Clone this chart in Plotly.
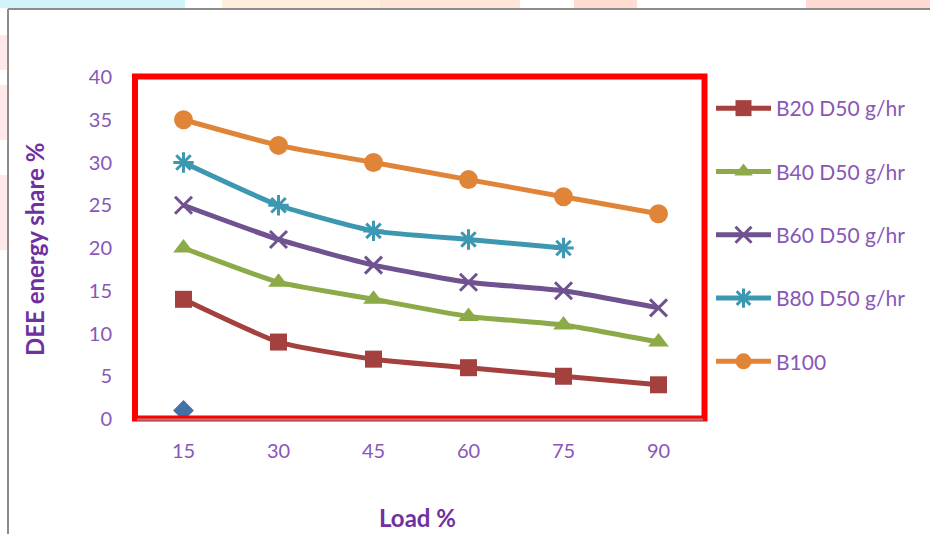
import plotly.graph_objects as go

# Engine load (%) and DEE energy share (%) for each blend
load = [15, 30, 45, 60, 75, 90]
b20 = [14, 9, 7, 6, 5, 4]
b40 = [20, 16, 14, 12, 11, 9]
b60 = [25, 21, 18, 16, 15, 13]
b80 = [30, 25, 22, 21, 20, None]
b100 = [35, 32, 30, 28, 26, 24]
diesel_load = [15]
diesel_share = [1]

W, H = 930, 534
L, R, T, B = 136, 706, 77, 419  # plot area in pixels

def px(x):
    return (x - L) / (R - L)

def py(y):
    return (B - y) / (B - T)

TICK = "#8757B8"
TITLE = "#7030A0"
FONT = "Lato, 'Open Sans', sans-serif"

fig = go.Figure()

series = [
    ("B20 D50 g/hr", b20, "#A4403D", dict(symbol="square", size=17)),
    ("B40 D50 g/hr", b40, "#8DAA48", dict(symbol="triangle-up", size=18)),
    ("B60 D50 g/hr", b60, "#6F528F", dict(symbol="x-thin-open", size=17, line=dict(width=3, color="#6F528F"))),
    ("B80 D50 g/hr", b80, "#3C98B0", dict(symbol="asterisk-open", size=17, line=dict(width=3, color="#3C98B0"))),
    ("B100", b100, "#E08537", dict(symbol="circle", size=19)),
]

for i, (name, vals, col, mk) in enumerate(series):
    fig.add_trace(go.Scatter(
        x=load, y=vals, name=name, mode="lines+markers",
        line=dict(color=col, width=5, shape="spline", smoothing=0.5),
        marker=dict(color=col, **mk),
        legendgroup=name, connectgaps=False,
    ))

fig.add_trace(go.Scatter(
    x=diesel_load, y=diesel_share, mode="markers", showlegend=False,
    marker=dict(symbol="diamond", size=16, color="#4472A8"),
))

shapes = []
# pastel strip along the top edge
for x0, x1, c in [(0, 185, "#D3F3FB"), (222, 380, "#FFEEDC"), (380, 520, "#FFE4D8"),
                  (574, 637, "#FFDBD2"), (806, 930, "#FFDAD2")]:
    shapes.append(dict(type="rect", xref="paper", yref="paper", layer="below",
                       x0=px(x0), x1=px(x1), y0=py(0), y1=py(8),
                       fillcolor=c, line=dict(width=0)))
for y0, y1 in [(35, 70), (85, 140), (175, 250)]:
    shapes.append(dict(type="rect", xref="paper", yref="paper", layer="below",
                       x0=px(0), x1=px(7), y0=py(y1), y1=py(y0),
                       fillcolor="#FFE8E8", line=dict(width=0)))
# frame lines
shapes.append(dict(type="line", xref="paper", yref="paper", x0=px(8), x1=px(930),
                   y0=py(9), y1=py(9), line=dict(color="#8C8C8C", width=2)))
shapes.append(dict(type="line", xref="paper", yref="paper", x0=px(8), x1=px(8),
                   y0=py(9), y1=py(534), line=dict(color="#8C8C8C", width=2)))
# red highlight box around the plot area
shapes.append(dict(type="rect", xref="paper", yref="paper", layer="above",
                   x0=px(135), x1=px(704.5), y0=py(418.5), y1=py(76.5),
                   line=dict(color="#FF0000", width=6)))
shapes.append(dict(type="line", xref="paper", yref="paper", layer="above",
                   x0=px(137), x1=px(703), y0=py(419.5), y1=py(419.5),
                   line=dict(color="#8C8C8C", width=2)))

fig.update_layout(
    width=W, height=H,
    margin=dict(l=L, r=W - R, t=T, b=H - B),
    paper_bgcolor="white", plot_bgcolor="white",
    font=dict(family=FONT, color=TICK, size=20),
    shapes=shapes,
    showlegend=True,
    legend=dict(x=px(711), y=py(88), xanchor="left", yanchor="top",
                font=dict(size=21, color=TICK), tracegroupgap=33,
                itemwidth=55, bgcolor="rgba(0,0,0,0)"),
    xaxis=dict(range=[7.5, 97.5], tickvals=load, showgrid=False, zeroline=False,
               showline=False, ticks="outside", ticklen=14, tickcolor="rgba(0,0,0,0)",
               tickfont=dict(size=20, color=TICK)),
    yaxis=dict(range=[0, 40], dtick=5, showgrid=False, zeroline=False,
               showline=False, ticks="outside", ticklen=19, tickcolor="rgba(0,0,0,0)",
               tickfont=dict(size=20, color=TICK)),
    annotations=[
        dict(text="<b>DEE energy share %</b>", xref="paper", yref="paper",
             x=px(35), y=py(250), textangle=-90, showarrow=False,
             font=dict(size=24, color=TITLE), xanchor="center", yanchor="middle"),
        dict(text="<b>Load %</b>", xref="paper", yref="paper",
             x=px(417), y=py(517), showarrow=False,
             font=dict(size=24, color=TITLE), xanchor="center", yanchor="middle"),
    ],
)

fig.write_html("out.html")
